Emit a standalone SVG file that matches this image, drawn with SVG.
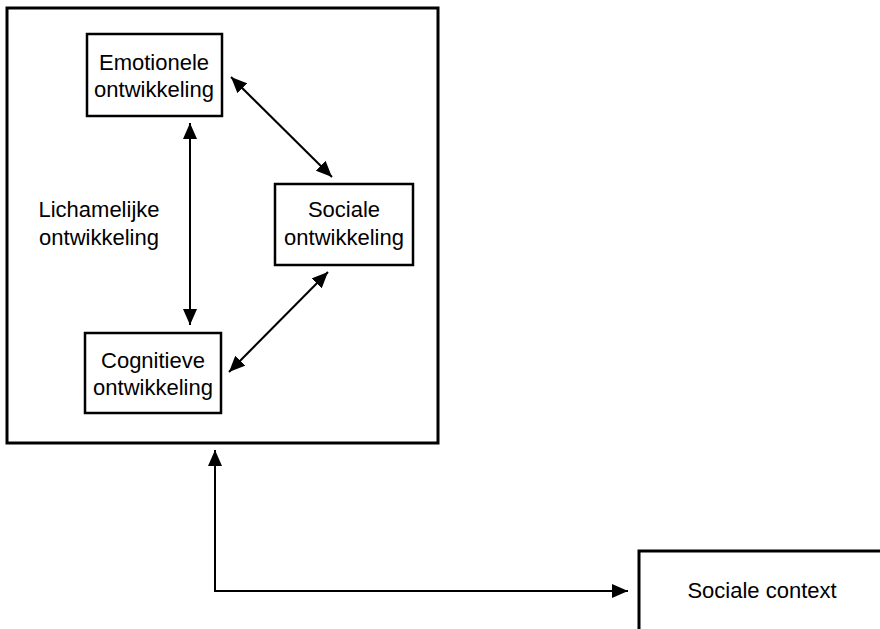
<svg xmlns="http://www.w3.org/2000/svg" width="880" height="629" viewBox="0 0 880 629">
  <style>
    .box { fill: none; stroke: #000; stroke-width: 2.5; }
    .frame { fill: none; stroke: #000; stroke-width: 3; }
    .link { fill: none; stroke: #000; stroke-width: 2; }
    .lbl { font-family: "Liberation Sans", Arial, sans-serif; font-size: 22px; fill: #000; text-anchor: middle; }
  </style>
  <defs>
    <marker id="head" viewBox="0 0 16 14" refX="16" refY="7" markerWidth="16" markerHeight="14" markerUnits="userSpaceOnUse" orient="auto-start-reverse">
      <path d="M0,0 L16,7 L0,14 Z" fill="#000"/>
    </marker>
  </defs>
  <rect width="880" height="629" fill="#fff"/>

  <!-- development domains frame -->
  <g id="development">
    <rect class="frame" x="7" y="8" width="431" height="435"/>
  </g>

  <g id="emotionele">
    <rect class="box" x="87" y="34" width="135" height="82"/>
    <text class="lbl" x="154" y="70">Emotionele</text>
    <text class="lbl" x="154" y="97">ontwikkeling</text>
  </g>

  <g id="sociale">
    <rect class="box" x="275" y="184" width="138" height="81"/>
    <text class="lbl" x="344" y="217">Sociale</text>
    <text class="lbl" x="344" y="245">ontwikkeling</text>
  </g>

  <g id="lichamelijke">
    <text class="lbl" x="99" y="217">Lichamelijke</text>
    <text class="lbl" x="99" y="245">ontwikkeling</text>
  </g>

  <g id="cognitieve">
    <rect class="box" x="85" y="333" width="136" height="80"/>
    <text class="lbl" x="153" y="368">Cognitieve</text>
    <text class="lbl" x="153" y="395">ontwikkeling</text>
  </g>

  <g id="sociale-context">
    <path class="frame" d="M639,629 V551 H880"/>
    <text class="lbl" x="762" y="598">Sociale context</text>
  </g>

  <!-- two-way links -->
  <g id="connectors">
    <line class="link" x1="190" y1="123" x2="190" y2="325" marker-start="url(#head)" marker-end="url(#head)"/>
    <line class="link" x1="231" y1="77" x2="332" y2="177" marker-start="url(#head)" marker-end="url(#head)"/>
    <line class="link" x1="328" y1="272" x2="229" y2="372" marker-start="url(#head)" marker-end="url(#head)"/>
    <path class="link" d="M215,450 V591 H628" marker-start="url(#head)" marker-end="url(#head)"/>
  </g>
</svg>
